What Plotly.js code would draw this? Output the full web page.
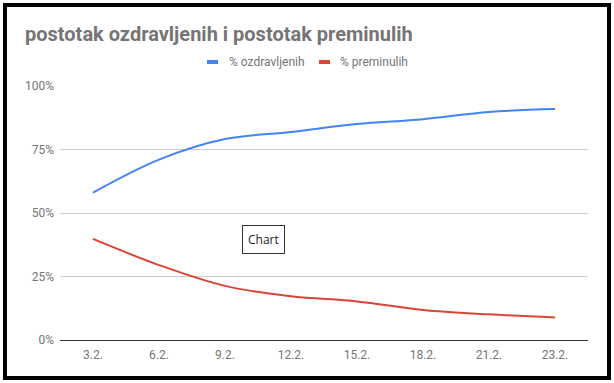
<!DOCTYPE html>
<html>
<head>
<meta charset="utf-8">
<script src="https://cdn.plot.ly/plotly-3.0.1.min.js"></script>
<style>
  html, body { margin: 0; padding: 0; background: #fff; }
  #wrap { position: relative; width: 614px; height: 383px; overflow: hidden; }
  #chart { position: absolute; left: 0; top: 0; width: 614px; height: 383px; }
  #frame { position: absolute; left: 3px; top: 3px; width: 600px; height: 369px;
           border: 4px solid #000; pointer-events: none; }
</style>
</head>
<body>
<div id="wrap">
  <div id="chart"></div>
  <div id="frame"></div>
</div>
<script>
const categories = ["3.2.", "6.2.", "9.2.", "12.2.", "15.2.", "18.2.", "21.2.", "23.2."];
const recovered = [58.0, 71.0, 79.1, 81.9, 85.0, 86.9, 89.8, 90.9];
const deceased = [39.8, 29.5, 21.3, 17.2, 15.2, 11.8, 10.1, 8.9];
const seriesNames = ["% ozdravljenih", "% preminulih"];
const seriesColors = ["#4285F4", "#DB4437"];
const yTicks = [0, 25, 50, 75, 100];
const yTickText = yTicks.map(v => v + "%");

// plot area in pixels: x 60..588, y 86..340
const px = x => (x - 60) / 528;
const py = y => (340 - y) / 254;

const traces = [
  { x: categories, y: recovered, name: seriesNames[0], type: "scatter", mode: "lines",
    line: { color: seriesColors[0], width: 2, shape: "spline", smoothing: 1 }, hoverinfo: "none" },
  { x: categories, y: deceased, name: seriesNames[1], type: "scatter", mode: "lines",
    line: { color: seriesColors[1], width: 2, shape: "spline", smoothing: 1 }, hoverinfo: "none" }
];

const legendSwatchX = [207, 319];
const legendTextX = [227, 338];
const legendY = 62;

const shapes = legendSwatchX.map((x0, i) => ({
  type: "rect", xref: "paper", yref: "paper",
  x0: px(x0), x1: px(x0 + 11), y0: py(legendY + 2), y1: py(legendY - 2),
  fillcolor: seriesColors[i], line: { width: 0 }, layer: "above"
}));

const legendAnn = legendTextX.map((x, i) => ({
  text: seriesNames[i], xref: "paper", yref: "paper", x: px(x), y: py(legendY),
  xanchor: "left", yanchor: "middle", showarrow: false,
  font: { family: "Roboto, Arial, sans-serif", size: 12, color: "#757575" }
}));

const layout = {
  width: 614, height: 383,
  margin: { l: 60, r: 26, t: 86, b: 43 },
  paper_bgcolor: "#fff", plot_bgcolor: "#fff",
  font: { family: "Roboto, Arial, sans-serif", size: 12, color: "#757575" },
  title: { text: "postotak ozdravljenih i postotak preminulih",
           font: { family: "Roboto, Arial, sans-serif", size: 20, color: "#757575", weight: 700 },
           xref: "container", x: 25/614, xanchor: "left",
           yref: "container", y: 1 - 34/383, yanchor: "middle" },
  showlegend: false,
  xaxis: { type: "category", range: [-0.5, 7.5], showgrid: false, zeroline: false, showline: false,
           ticks: "", ticklabelstandoff: 6, tickfont: { size: 12, color: "#757575" }, fixedrange: true },
  yaxis: { range: [0, 100], tickvals: yTicks, ticktext: yTickText, showgrid: true,
           gridcolor: "#cccccc", gridwidth: 1, zeroline: true, zerolinecolor: "#333333",
           zerolinewidth: 1, showline: false, ticks: "", ticklabelstandoff: 5,
           tickfont: { size: 12, color: "#757575" }, fixedrange: true },
  shapes: shapes,
  annotations: legendAnn.concat([
    { text: "Chart", xref: "paper", yref: "paper",
      x: px(263.5), y: py(239), xanchor: "center", yanchor: "middle",
      showarrow: false, bgcolor: "#fff", bordercolor: "#333", borderwidth: 1, borderpad: 5,
      font: { family: "Open Sans, Arial, sans-serif", size: 12, color: "#222" } }
  ])
};

Plotly.newPlot("chart", traces, layout, { displayModeBar: false, staticPlot: true });
</script>
</body>
</html>
